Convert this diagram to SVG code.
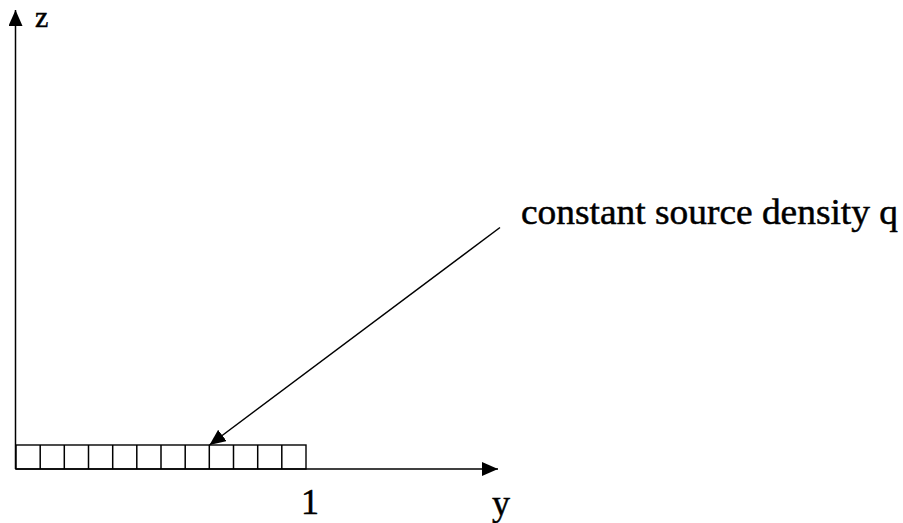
<svg xmlns="http://www.w3.org/2000/svg" width="903" height="523" viewBox="0 0 903 523">
<defs>
<style>
.ln{stroke:#000;stroke-width:1.5;fill:none}
.cell{stroke:#000;stroke-width:1.4;fill:#fff}
.t{font-family:"Liberation Serif","Times New Roman",serif;font-size:36px;fill:#000;stroke:#000;stroke-width:0.5}
</style>
<marker id="ah" viewBox="0 0 16 14" refX="16" refY="7" markerWidth="16" markerHeight="14" markerUnits="userSpaceOnUse" orient="auto">
<path d="M0,0 L16,7 L0,14 Z" fill="#000"/>
</marker>
</defs>
<rect width="903" height="523" fill="#fff"/>
<g id="source-bar">
<rect class="cell" x="16" y="445" width="290" height="24"/>
<path class="ln" d="M40.2,445V469M64.3,445V469M88.5,445V469M112.7,445V469M136.8,445V469M161,445V469M185.2,445V469M209.3,445V469M233.5,445V469M257.7,445V469M281.8,445V469"/>
</g>
<g id="connectors">
<line class="ln" x1="15.5" y1="469" x2="15.5" y2="10" marker-end="url(#ah)"/>
<line class="ln" x1="15.5" y1="469" x2="498" y2="469" marker-end="url(#ah)"/>
<line class="ln" x1="500" y1="227.5" x2="209.5" y2="445" marker-end="url(#ah)"/>
</g>
<g id="labels">
<text class="t" x="35" y="27" style="font-size:30px">z</text>
<text class="t" x="301" y="514">1</text>
<text class="t" x="492" y="515">y</text>
<text class="t" x="521" y="224" textLength="377" lengthAdjust="spacingAndGlyphs">constant source density q</text>
</g>
</svg>
